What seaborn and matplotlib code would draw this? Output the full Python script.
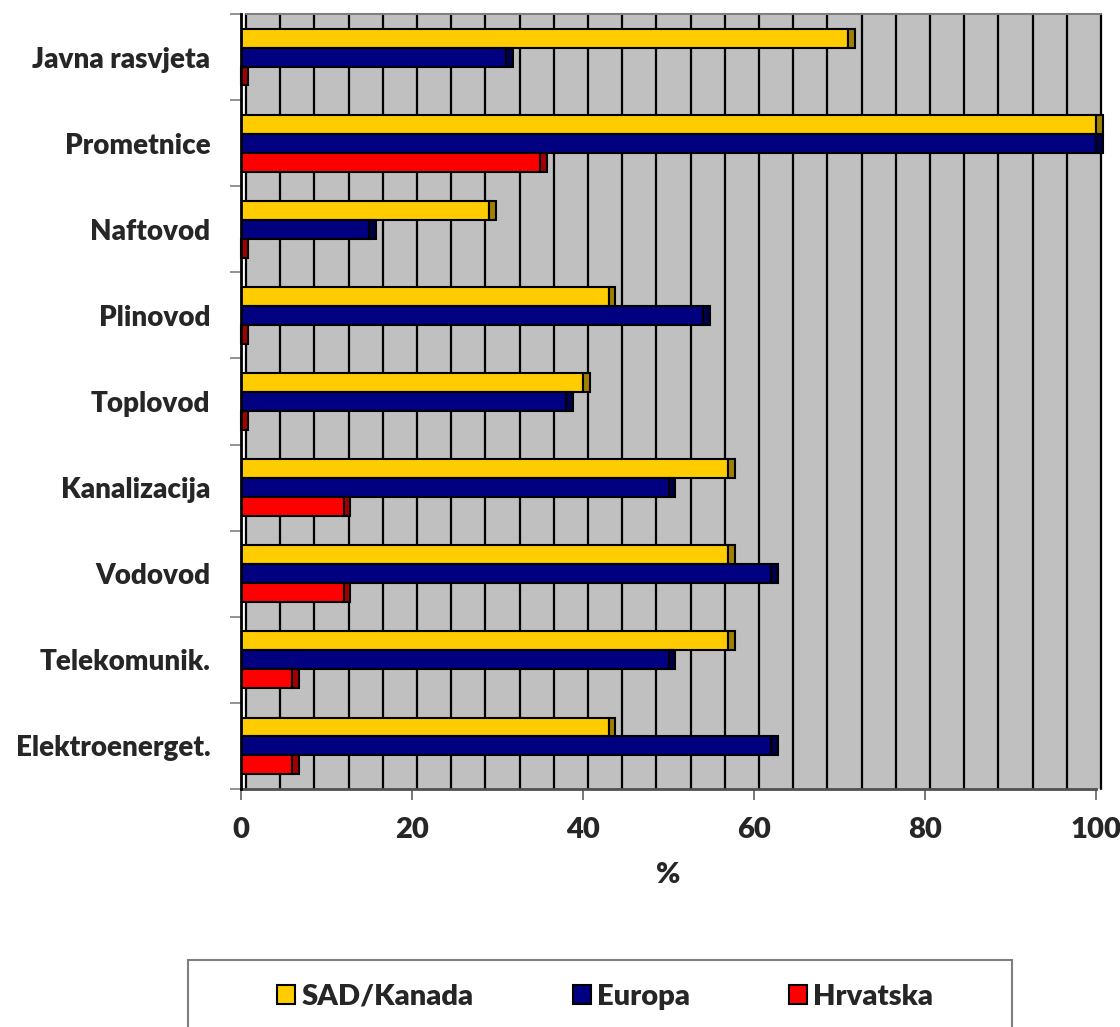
import numpy as np
import pandas as pd
import matplotlib
matplotlib.use("Agg")
import matplotlib.pyplot as plt
import matplotlib.transforms as mtransforms
from matplotlib.patches import Rectangle, Patch
import seaborn as sns

# Share of networks (%) by infrastructure type
categories = ["Javna rasvjeta", "Prometnice", "Naftovod", "Plinovod", "Toplovod",
              "Kanalizacija", "Vodovod", "Telekomunik.", "Elektroenerget."]
series_names = ["SAD/Kanada", "Europa", "Hrvatska"]
sad_kanada = [71, 100, 29, 43, 40, 57, 57, 57, 43]
europa = [31, 100, 15, 54, 38, 50, 62, 50, 62]
hrvatska = [0, 35, 0, 0, 0, 12, 12, 6, 6]
x_ticks = [0, 20, 40, 60, 80, 100]

colors = {"SAD/Kanada": "#FFCC00", "Europa": "#000080", "Hrvatska": "#FF0000"}
side_colors = {"SAD/Kanada": "#A08000", "Europa": "#00004A", "Hrvatska": "#A00000"}

df = pd.DataFrame({
    "kategorija": categories * 3,
    "serija": [s for s in series_names for _ in categories],
    "vrijednost": sad_kanada + europa + hrvatska,
})

sns.set_style("white")
plt.rcParams["font.family"] = ["Lato", "DejaVu Sans"]
plt.rcParams["font.weight"] = "heavy"
FW = "heavy"

W, H, DPI = 1120, 1027, 100
fig = plt.figure(figsize=(W / DPI, H / DPI), dpi=DPI)
ax = fig.add_axes([241 / W, 1 - 789 / H, (1096 - 241) / W, (789 - 14) / H])
ax.set_xlim(0, 100)

# back wall of the pseudo-3D box, shifted a few pixels right
shift = mtransforms.ScaledTranslation(5 / DPI, 0, fig.dpi_scale_trans)
grid_tr = ax.get_xaxis_transform() + shift
ax.add_artist(Rectangle((0, 0), 1, 1, transform=ax.transAxes + shift,
                        facecolor="#C0C0C0", edgecolor="none", zorder=0,
                        clip_on=False))
for gx in np.arange(0, 101, 4):
    ax.plot([gx, gx], [0, 1], color="black", lw=1.6, transform=grid_tr,
            zorder=0.5, clip_on=False)
ax.plot([0, 100], [1, 1], color="#808080", lw=1.5, transform=grid_tr,
        zorder=0.6, clip_on=False)

sns.barplot(data=df, x="vrijednost", y="kategorija", hue="serija",
            order=categories, hue_order=series_names, palette=colors,
            saturation=1, orient="h", width=0.66, edgecolor="black",
            linewidth=1.5, legend=False, ax=ax, zorder=2)

# darker end faces giving the bars their depth
depth = 0.8
for container, s in zip(ax.containers, series_names):
    for bar in container:
        x0, y0 = bar.get_x(), bar.get_y()
        w, h = bar.get_width(), bar.get_height()
        ax.add_patch(Rectangle((x0 + w, y0), depth, h,
                               facecolor=side_colors[s], edgecolor="black",
                               linewidth=1.5, zorder=2.1, clip_on=False))

ax.set_ylim(len(categories) - 0.5, -0.5)
ax.set_xticks(x_ticks)
ax.set_xticklabels([str(t) for t in x_ticks], fontsize=21, fontweight=FW)
ax.set_yticks(range(len(categories)))
ax.set_yticklabels(categories, fontsize=20, fontweight=FW)
ax.set_yticks(np.arange(-0.5, len(categories), 1), minor=True)
ax.tick_params(axis="y", which="major", length=0, pad=22)
ax.tick_params(axis="y", which="minor", length=8, width=1.2, color="#808080",
               direction="out", left=True)
ax.tick_params(axis="x", which="major", length=8, width=1.2, color="#606060",
               direction="out", bottom=True, pad=12)
ax.set_xlabel("%", fontsize=21, fontweight=FW, labelpad=14)
ax.set_ylabel("")

for side in ["top", "right"]:
    ax.spines[side].set_visible(False)
ax.spines["left"].set_color("black")
ax.spines["left"].set_linewidth(2)
ax.spines["left"].set_zorder(3)
ax.spines["bottom"].set_color("#505050")
ax.spines["bottom"].set_linewidth(2)

# legend box running off the bottom of the figure
fig.patches.append(Rectangle((188 / W, -0.02), (1012 - 188) / W,
                             (1027 - 960) / H + 0.02, transform=fig.transFigure,
                             facecolor="white", edgecolor="#808080", lw=1.5))
handles = [Patch(facecolor=colors[s], edgecolor="black", linewidth=1.5)
           for s in series_names]
fig.legend(handles, series_names, loc="center", ncol=3,
           bbox_to_anchor=(605 / W, 1 - 997 / H), frameon=False,
           prop={"size": 21, "weight": FW}, handlelength=0.62,
           handleheight=0.62, handletextpad=0.2, columnspacing=3.4)

fig.savefig("out.png", dpi=DPI)
